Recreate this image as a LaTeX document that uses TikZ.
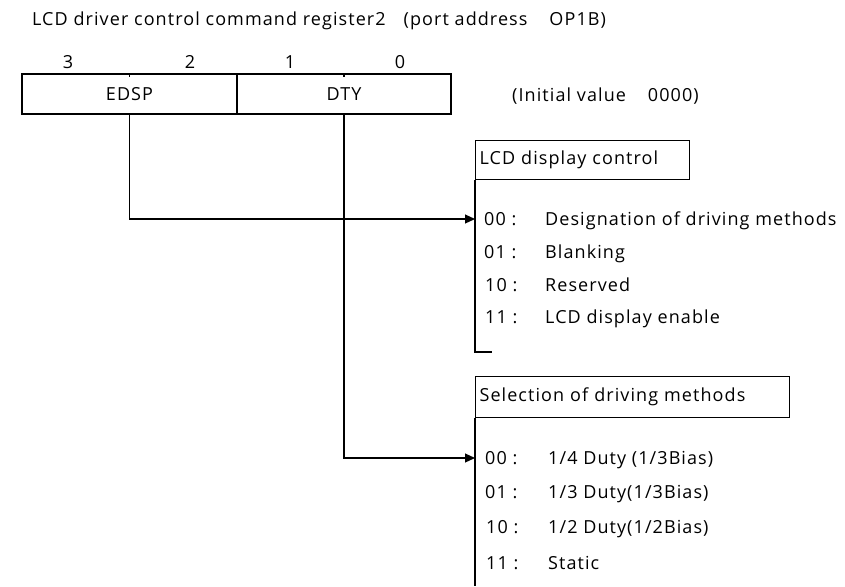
\documentclass[tikz,border=0pt]{standalone}
\usepackage{fontspec}
\setmainfont{Open Sans}[LetterSpace=6]
\usetikzlibrary{arrows.meta}
\begin{document}
\begin{tikzpicture}[x=1pt,y=-1pt,
  txt/.style={inner sep=0pt,text height=12.9pt,text depth=0pt,font=\fontsize{18}{21}\selectfont},
  box/.style={draw,line width=1.1pt,inner sep=0pt,font=\fontsize{18}{21}\selectfont},
  hdr/.style={draw,line width=1.1pt,inner xsep=4pt,inner ysep=0pt,align=left,font=\fontsize{18}{21}\selectfont,anchor=north west},
  wire/.style={line width=1.1pt},
  arr/.style={line width=1.1pt,-{Triangle[length=10pt,width=9pt]}}]
\useasboundingbox (0,0) rectangle (845,586);
% title
\node[txt,anchor=west] (title) at (32,19) {LCD driver control command register2\hspace{18pt}(port address\hspace{22pt}OP1B)};
% bit numbers
\node[txt] (b3) at (68,62) {3};
\node[txt] (b2) at (190,62) {2};
\node[txt] (b1) at (290,62) {1};
\node[txt] (b0) at (400,62) {0};
% register
\node[box,minimum width=215pt,minimum height=40pt] (edsp) at (129.5,94) {EDSP};
\node[box,minimum width=214pt,minimum height=40pt] (dty) at (344,94) {DTY};
\draw[wire] (edsp.north) -- ++(0,4);
\draw[wire] (dty.north) -- ++(0,4);
\node[txt,anchor=west] (init) at (512,95) {(Initial value\hspace{22pt}0000)};
% LCD display control
\node[hdr,text width=206pt,minimum height=39pt] (lcd) at (475,140) {LCD display control};
\coordinate (lcdend) at (475,352);
\coordinate (lcdfoot) at (492,352);
\draw[wire] (lcd.south west) -- (lcdend) -- (lcdfoot);
\coordinate (a1) at (475,219);
\node[txt,anchor=west] (c00) at (484,219) {00 :};
\node[txt,anchor=west] (c01) at (484,252) {01 :};
\node[txt,anchor=west] (c10) at (485,285) {10 :};
\node[txt,anchor=west] (c11) at (485,317) {11 :};
\node[txt,anchor=west] (t00) at (545,219) {Designation of driving methods};
\node[txt,anchor=west] (t01) at (545,252) {Blanking};
\node[txt,anchor=west] (t10) at (545,285) {Reserved};
\node[txt,anchor=west] (t11) at (545,317) {LCD display enable};
% Selection of driving methods
\node[hdr,text width=306pt,minimum height=41pt] (sel) at (475,376) {Selection of driving methods};
\coordinate (selend) at (475,586);
\draw[wire] (sel.south west) -- (selend);
\coordinate (a2) at (475,458);
\node[txt,anchor=west] (d00) at (485,458) {00 :};
\node[txt,anchor=west] (d01) at (485,492) {01 :};
\node[txt,anchor=west] (d10) at (486,527) {10 :};
\node[txt,anchor=west] (d11) at (486,563) {11 :};
\node[txt,anchor=west] (u00) at (548,458) {1/4 Duty (1/3Bias)};
\node[txt,anchor=west] (u01) at (548,492) {1/3 Duty(1/3Bias)};
\node[txt,anchor=west] (u10) at (548,527) {1/2 Duty(1/2Bias)};
\node[txt,anchor=west] (u11) at (548,563) {Static};
% connectors
\draw[arr] (edsp.south) |- (a1);
\draw[arr] (dty.south) |- (a2);
\end{tikzpicture}
\end{document}
